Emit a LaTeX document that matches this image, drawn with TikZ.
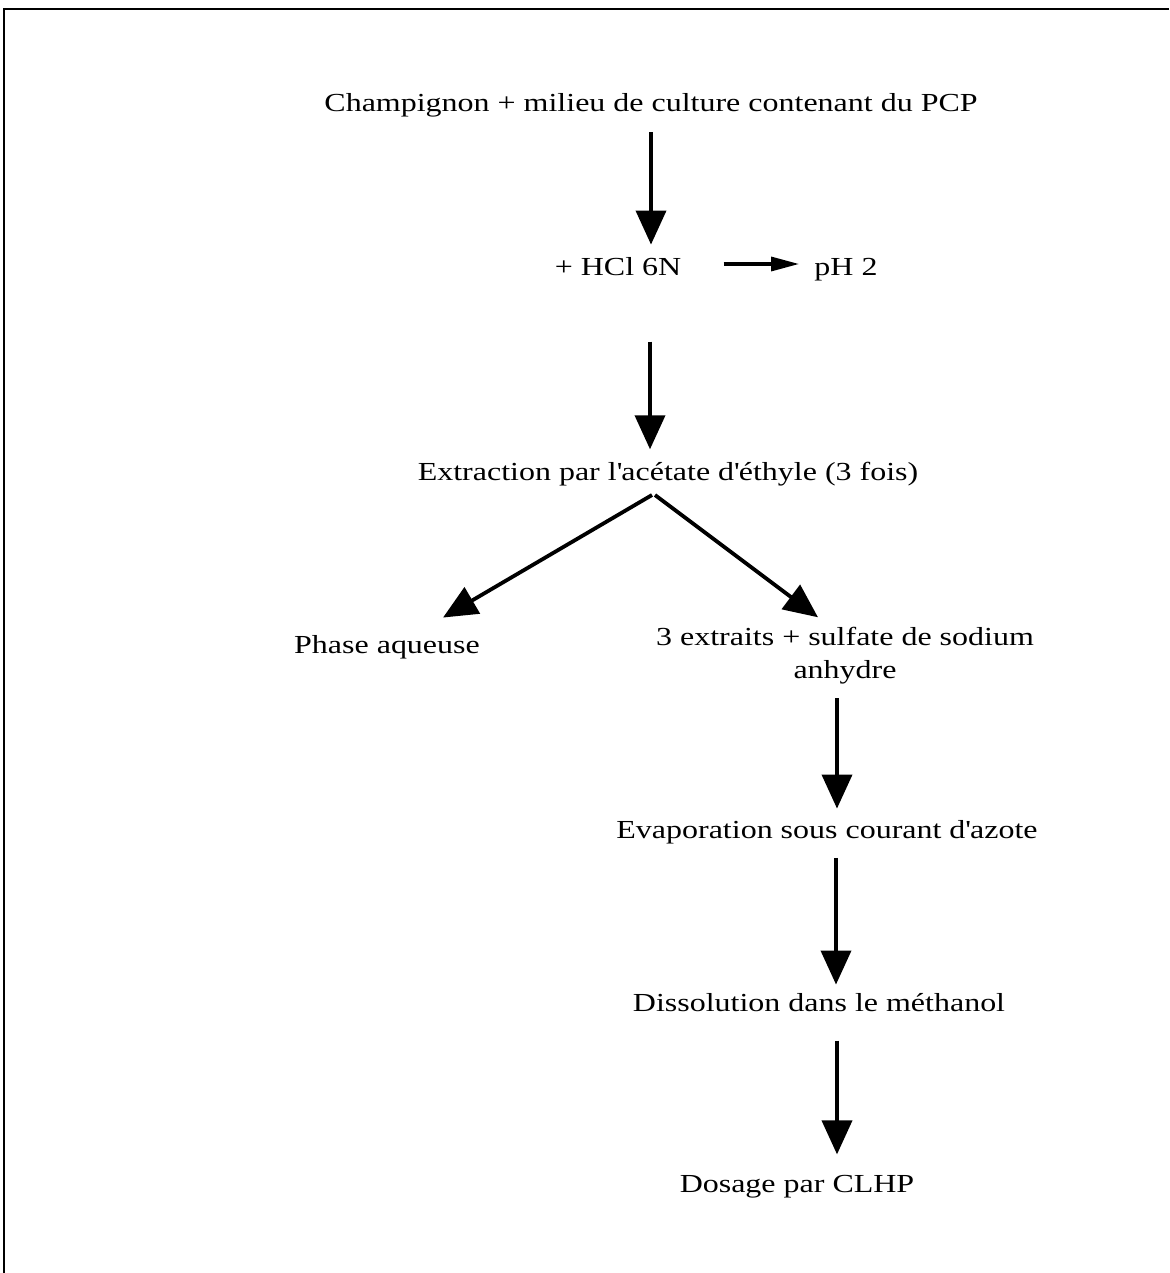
\documentclass[tikz,border=0pt]{standalone}
\usepackage{fontspec}
\setmainfont{Liberation Serif}[FakeStretch=1.23]
\usetikzlibrary{arrows.meta,calc}
\begin{document}
\begin{tikzpicture}[x=0.5pt,y=-0.5pt,
  lbl/.style={inner sep=0pt,anchor=base,font=\fontsize{13}{16.5}\selectfont},
  arr/.style={line width=1.9pt,-{Triangle[width=15pt,length=17pt]}},
  sarr/.style={line width=1.6pt,-{Triangle[width=7pt,length=14pt]}}]
\useasboundingbox (0,0) rectangle (1169,1273);
\draw[line width=1.3pt] (1169,9) -- (4,9) -- (4,1273);
\node[lbl] (title) at (651,112) {Champignon + milieu de culture contenant du PCP};
\node[lbl] (hcl) at (618,275) {+ HCl 6N};
\node[lbl] (ph) at (846,275) {pH 2};
\node[lbl] (extr) at (668,480) {Extraction par l\textquotesingle ac\'etate d\textquotesingle \'ethyle (3 fois)};
\node[lbl] (aq) at (387,653) {Phase aqueuse};
\node[lbl,align=center] (ext) at (845,678) {3 extraits + sulfate de sodium\\anhydre};
\node[lbl] (evap) at (827,838) {Evaporation sous courant d\textquotesingle azote};
\node[lbl] (diss) at (819,1011) {Dissolution dans le m\'ethanol};
\node[lbl] (dos) at (797,1192) {Dosage par CLHP};
% arrows
\draw[arr] ($(title.south)+(0,14)$) -- ($(title.south |- hcl.north)+(0,-12)$);
\draw[sarr] ($(hcl.base east)+(42,-11)$) -- ($(hcl.base east -| ph.west)+(-15,-11)$);
\draw[arr] ($(title.south |- hcl.south)+(-1,66)$) -- ($(title.south |- extr.north)+(-1,-12)$);
\draw[arr] ($(extr.south)+(-16,9)$) -- ($(aq.north)+(56,-17)$);
\draw[arr] ($(extr.south)+(-13,9)$) -- ($(ext.north)+(-27,-9)$);
\draw[arr] ($(ext.south)+(-8,14)$) -- ($(ext.south |- evap.north)+(-8,-11)$);
\draw[arr] ($(ext.south |- evap.south)+(-9,14)$) -- ($(ext.south |- diss.north)+(-9,-8)$);
\draw[arr] ($(ext.south |- diss.south)+(-8,29)$) -- ($(ext.south |- dos.north)+(-8,-20)$);
\end{tikzpicture}
\end{document}
